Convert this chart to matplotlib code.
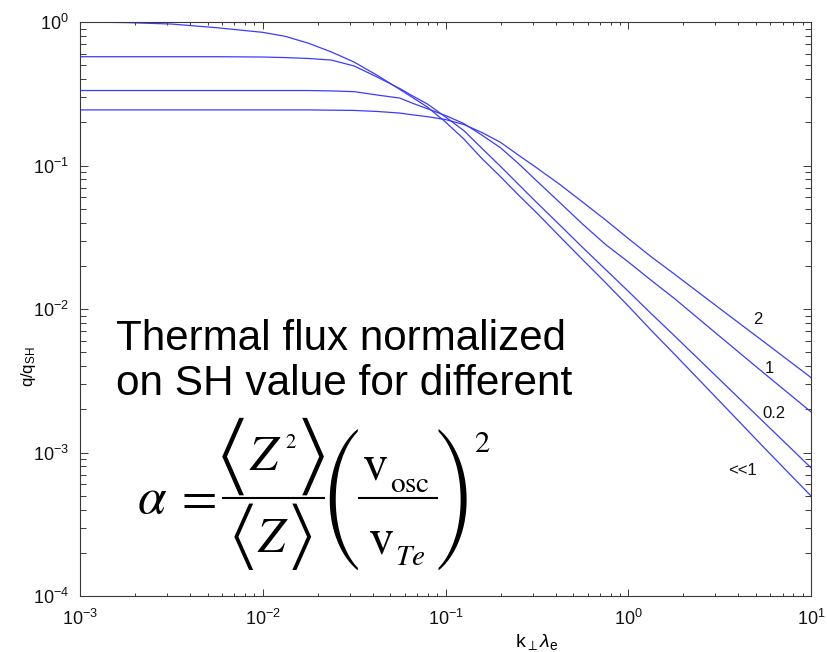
import os
import numpy as np
import matplotlib
matplotlib.use("Agg")
import matplotlib.pyplot as plt
from matplotlib.ticker import LogLocator, NullFormatter
from matplotlib.lines import Line2D
from matplotlib.textpath import TextPath
from matplotlib.font_manager import FontProperties, get_font

plt.rcParams['font.family'] = ['Liberation Sans', 'DejaVu Sans']
plt.rcParams['mathtext.fontset'] = 'custom'
plt.rcParams['mathtext.rm'] = 'Liberation Sans'
plt.rcParams['mathtext.it'] = 'Liberation Sans:italic'
plt.rcParams['mathtext.bf'] = 'Liberation Sans:bold'

# ---------------- data ----------------
k_lambda = [0.001, 0.00178, 0.00316, 0.00562, 0.01, 0.0133, 0.0178, 0.0237,
            0.0316, 0.0422, 0.0562, 0.0668, 0.0794, 0.1, 0.126, 0.158,
            0.2, 0.251, 0.316, 0.422, 0.562, 0.75, 1.0, 1.33,
            1.78, 3.16, 5.62, 10.0]

q_ll1 = [1.0, 0.991, 0.968, 0.912, 0.847, 0.794, 0.711, 0.619,
         0.526, 0.426, 0.339, 0.295, 0.256, 0.201, 0.153, 0.112,
         0.0836, 0.0622, 0.0467, 0.0320, 0.0221, 0.0153, 0.0105, 0.00714,
         0.00488, 0.00228, 0.00106, 0.000498]
q_02 = [0.573, 0.573, 0.573, 0.573, 0.570, 0.565, 0.557, 0.543,
        0.494, 0.414, 0.344, 0.303, 0.269, 0.218, 0.175, 0.132,
        0.0986, 0.0738, 0.0551, 0.0385, 0.0269, 0.0189, 0.0133, 0.00933,
        0.00655, 0.00323, 0.00159, 0.000783]
q_1 = [0.333, 0.333, 0.333, 0.333, 0.333, 0.333, 0.333, 0.331,
       0.327, 0.310, 0.295, 0.270, 0.249, 0.223, 0.196, 0.163,
       0.133, 0.103, 0.0780, 0.0552, 0.0391, 0.0282, 0.0213, 0.0159,
       0.0119, 0.00646, 0.00351, 0.00192]
q_2 = [0.244, 0.244, 0.244, 0.244, 0.244, 0.244, 0.244, 0.243,
       0.242, 0.238, 0.232, 0.225, 0.219, 0.209, 0.193, 0.170,
       0.145, 0.118, 0.0962, 0.0738, 0.0557, 0.0418, 0.0310, 0.0232,
       0.0176, 0.0101, 0.00581, 0.00333]

series = [q_ll1, q_02, q_1, q_2]

curve_labels = ['2', '1', '0.2', '<<1']
label_x = [5.13, 5.89, 6.27, 4.22]
label_y = [8.45e-3, 3.88e-3, 1.88e-3, 7.55e-4]

# ---------------- figure ----------------
W, H, DPI = 827, 652, 100
fig = plt.figure(figsize=(W / DPI, H / DPI), dpi=DPI)
ax = fig.add_axes([80 / W, 1 - 596 / H, 731 / W, 574 / H])

line_color = '#3b3bff'
for q in series:
    ax.plot(k_lambda, q, color=line_color, lw=0.9)

ax.set_xscale('log')
ax.set_yscale('log')
ax.set_xlim(1e-3, 10)
ax.set_ylim(1e-4, 1)

ax.xaxis.set_major_locator(LogLocator(base=10, numticks=10))
ax.yaxis.set_major_locator(LogLocator(base=10, numticks=10))
ax.xaxis.set_minor_locator(LogLocator(base=10, subs=range(2, 10), numticks=20))
ax.yaxis.set_minor_locator(LogLocator(base=10, subs=range(2, 10), numticks=20))
ax.xaxis.set_minor_formatter(NullFormatter())
ax.yaxis.set_minor_formatter(NullFormatter())

axis_col = '#383838'
for s in ax.spines.values():
    s.set_color(axis_col)
    s.set_linewidth(0.8)
ax.tick_params(which='both', direction='in', top=True, right=True, color=axis_col,
               width=0.7, labelsize=13, labelcolor='#111111')
ax.tick_params(axis='x', which='major', length=5.3, pad=9)
ax.tick_params(axis='x', which='minor', length=2.5)
ax.tick_params(axis='y', which='major', length=6, pad=8)
ax.tick_params(axis='y', which='minor', length=4)

ax.set_ylabel(r'q/q$_{\mathregular{SH}}$', fontsize=12)
ax.yaxis.set_label_coords(-0.058, 0.40)
ax.set_xlabel(r'k$_{\perp}$$\lambda_{\mathregular{e}}$', fontsize=14)
ax.xaxis.set_label_coords(0.625, -0.063)

for t, xx, yy in zip(curve_labels, label_x, label_y):
    ax.text(xx, yy, t, fontsize=12, ha='center', va='center', color='#111111')

# ---------------- big caption ----------------
fig.text(116 / W, 1 - 350 / H, 'Thermal flux normalized', fontsize=30.3,
         ha='left', va='baseline', color='black')
fig.text(116 / W, 1 - 395 / H, 'on SH value for different', fontsize=30.5,
         ha='left', va='baseline', color='black')


# ---------------- formula, composed piece by piece ----------------
def mtext(x, base, s, size):
    fig.text(x / W, 1 - base / H, s, fontsize=size, ha='left', va='baseline',
             math_fontfamily='stix', color='black')


TTF_DIR = os.path.join(matplotlib.get_data_path(), 'fonts', 'ttf')
STIX_FILES = ['STIXGeneral.ttf', 'STIXSizOneSymReg.ttf', 'STIXSizTwoSymReg.ttf',
              'STIXSizThreeSymReg.ttf', 'STIXSizFourSymReg.ttf', 'STIXSizFiveSymReg.ttf']
NOMINAL_EM_PX = 37 * DPI / 72.0


def glyph(ch, box):
    """Place a delimiter glyph (as real text) so that its ink fills the box height.
    Uses the STIX size-variant font whose natural size is closest (like TeX)."""
    x0, y0, x1, y1 = box
    h_des = y1 - y0
    best = None
    for fn in STIX_FILES:
        path = os.path.join(TTF_DIR, fn)
        if not os.path.exists(path):
            continue
        try:
            if get_font(path).get_char_index(ord(ch)) == 0:
                continue
            fp = FontProperties(fname=path)
            ext = TextPath((0, 0), ch, size=100, prop=fp).get_extents()
        except Exception:
            continue
        if ext.height <= 0 or ext.width <= 0:
            continue
        natural = ext.height / 100.0 * NOMINAL_EM_PX
        score = abs(np.log(natural / h_des))
        if best is None or score < best[0]:
            best = (score, path, ext)
    if best is None:
        fig.text((x0 + x1) / 2 / W, 1 - (y0 + y1) / 2 / H, ch, fontsize=h_des * 0.72,
                 ha='center', va='center', family='DejaVu Sans')
        return
    _, path, ext = best
    scale = h_des / ext.height
    size_px = 100 * scale
    xa = (x0 + x1) / 2 - (ext.x0 + ext.width / 2) * scale
    yb = y1 + ext.y0 * scale
    fig.text(xa / W, 1 - yb / H, ch,
             fontproperties=FontProperties(fname=path, size=size_px * 72 / DPI),
             ha='left', va='baseline', color='black')


def hbar(x0, x1, y):
    fig.add_artist(Line2D([x0 / W, x1 / W], [1 - y / H, 1 - y / H],
                          transform=fig.transFigure, color='black', lw=1.5,
                          solid_capstyle='butt'))


mtext(137, 513, r'$\alpha$', 37)
mtext(174, 512, r'$=$', 37)
# < Z^2 > / < Z >
glyph('\u27e8', (226, 418, 240, 495))
mtext(249, 470, r'$Z$', 36)
mtext(285, 448, r'$2$', 15)
glyph('\u27e9', (306, 418, 320, 495))
hbar(222, 325, 498)
glyph('\u27e8', (237, 503, 250, 570))
mtext(257, 552, r'$Z$', 35)
glyph('\u27e9', (295, 503, 308, 570))
# ( v_osc / v_Te )^2
glyph('(', (334, 428, 352, 570))
mtext(362, 480, r'$\mathrm{v}$', 36)
mtext(390, 492, r'$\mathrm{osc}$', 21)
hbar(358, 438, 498)
mtext(368, 553, r'$\mathrm{v}$', 36)
mtext(395, 565, r'$Te$', 21)
glyph(')', (443, 428, 461, 570))
mtext(474, 452, r'$2$', 22)

fig.savefig('out.png', dpi=DPI)
